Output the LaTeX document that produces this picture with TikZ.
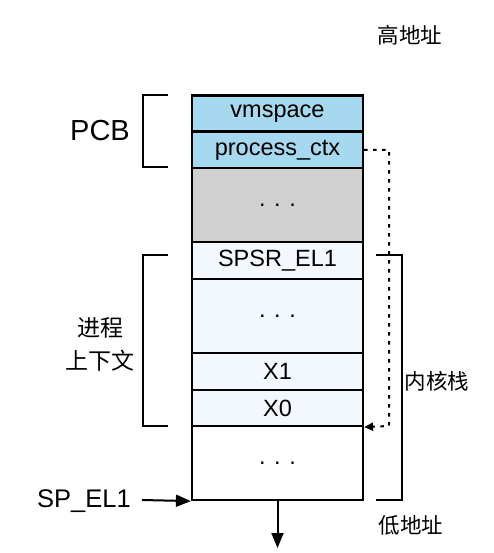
\documentclass[tikz,border=0pt]{standalone}
\usepackage{fontspec}
\setmainfont{Liberation Sans}
\newfontfamily\cjk{Noto Sans CJK SC}
\usetikzlibrary{arrows.meta}
\definecolor{pcbblue}{HTML}{A6D8EF}
\definecolor{midgrey}{HTML}{D0D0D0}
\definecolor{paleblue}{HTML}{F2F8FD}
\newcommand{\mydots}{. . .}
\tikzset{
  cell/.style={draw=black, line width=2.2pt, minimum width=171pt, inner sep=0pt, font=\fontsize{23.5}{26}\selectfont},
  brk/.style={draw=black, line width=2pt},
  cjklbl/.style={font=\fontsize{21.5}{33}\selectfont\cjk, align=center},
  arr/.style={draw=black, line width=2pt, -{Triangle[length=15pt,width=12pt]}},
}
\begin{document}
\begin{tikzpicture}[x=1pt,y=-1pt]
\useasboundingbox (0,0) rectangle (494,553);
% cells
\node[cell, fill=pcbblue, minimum height=36pt] (vm) at (277.5,113.5) {vmspace};
\node[cell, fill=pcbblue, minimum height=36pt] (pc) at (277.5,150) {process\_ctx};
\node[cell, fill=midgrey, minimum height=74pt] (gr) at (277.5,205) {\mydots};
\node[cell, fill=paleblue, minimum height=37pt] (sp) at (277.5,260.5) {SPSR\_EL1};
\node[cell, fill=paleblue, minimum height=74pt] (dd) at (277.5,316) {\mydots};
\node[cell, fill=paleblue, minimum height=37pt] (x1) at (277.5,371.5) {X1};
\node[cell, fill=paleblue, minimum height=36pt] (x0) at (277.5,408) {X0};
\node[cell, fill=white, minimum height=74pt] (bt) at (277.5,463) {\mydots};
% brackets
\draw[brk] (168,95) -- (143,95) -- (143,167) -- (168,167);
\draw[brk] (168,255) -- (143,255) -- (143,426) -- (168,426);
\draw[brk] (376,255) -- (402,255) -- (402,500) -- (376,500);
% labels
\node[font=\fontsize{29}{33}\selectfont] (pcb) at (100,131) {PCB};
\node[cjklbl, font=\fontsize{23}{33}\selectfont\cjk] (ctx) at (100,344) {进程\\上下文};
\node[cjklbl] (kst) at (437,381) {内核栈};
\node[cjklbl] (hi) at (410,35) {高地址};
\node[cjklbl] (lo) at (411,525) {低地址};
\node[font=\fontsize{25.5}{30}\selectfont, anchor=east, inner sep=0pt] (spel) at (131,501) {SP\_EL1};
% dotted pointer
\coordinate (d1) at (389,150);
\coordinate (d2) at (389,426);
\draw[line width=2pt, dash pattern=on 3.5pt off 5.5pt, -{Triangle[length=9pt,width=8pt]}] (pc.east) -- (d1) -- (d2) -- (x0.south east);
% arrows
\draw[arr] (spel.east) ++(11,-1) -- (bt.south west);
\coordinate (down) at (277.5,548);
\draw[arr] (bt.south) -- (down);
\end{tikzpicture}
\end{document}
